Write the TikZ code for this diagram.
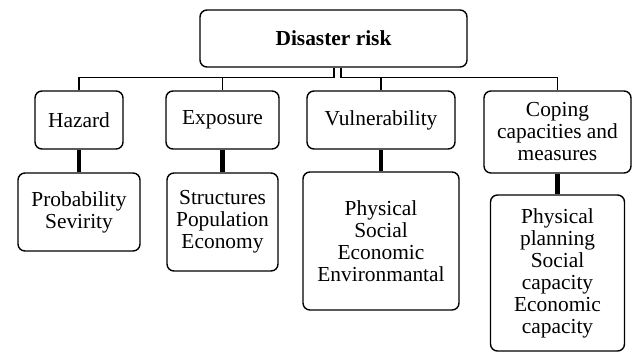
\documentclass[tikz,border=0pt]{standalone}
\usepackage{fontspec}
\setmainfont{Liberation Serif}

\begin{document}
\begin{tikzpicture}[x=1pt, y=-1pt,
		box/.style={draw, line width=1.4pt, rounded corners=7pt, align=center, inner sep=0pt,
			font=\fontsize{21.4}{22}\selectfont},
		link/.style={line width=1.4pt},
		stem/.style={line width=4.5pt}]
		\useasboundingbox (0,0) rectangle (633,354);
		% top
		\node[box, minimum width=267, minimum height=57, font=\bfseries\fontsize{21.4}{22}\selectfont] (risk) at (333.5,38.5) {Disaster risk};
		% factors
		\node[box, minimum width=88, minimum height=58] (hazard) at (79,120) {Hazard};
		\node[box, minimum width=113, minimum height=58] (expo) at (222.5,120) {Exposure};
		\node[box, minimum width=148, minimum height=58] (vuln) at (381,120) {Vulnerability};
		\node[box, minimum width=147, minimum height=82] (coping) at (557.5,132) {Coping\\capacities and\\measures};
		% details
		\node[box, minimum width=122, minimum height=78] (prob) at (79,212) {Probability\\Sevirity};
		\node[box, minimum width=111, minimum height=98] (struct) at (222.5,222) {Structures\\Population\\Economy};
		\node[box, minimum width=156, minimum height=138] (phys) at (381,241) {Physical\\Social\\Economic\\Environmantal};
		\node[box, minimum width=134, minimum height=156] (cap) at (557.5,273) {Physical\\planning\\Social\\capacity\\Economic\\capacity};
		% connectors
		\coordinate (bar) at (0,77.5);
		\coordinate (tap) at (337.5,0);
		\draw[link] (hazard.north) -- (hazard.north |- bar) -- (coping.north |- bar) -- (coping.north);
		\draw[link] (expo.north) -- (expo.north |- bar);
		\draw[link] (vuln.north) -- (vuln.north |- bar);
		\draw[line width=1.3pt, double, double distance=5.5pt] (tap |- risk.south) -- (tap |- bar);
		\draw[stem] (hazard) -- (prob);
		\draw[stem] (expo) -- (struct);
		\draw[stem] (vuln) -- (phys);
		\draw[stem] (coping) -- (cap);
	\end{tikzpicture}
\end{document}
